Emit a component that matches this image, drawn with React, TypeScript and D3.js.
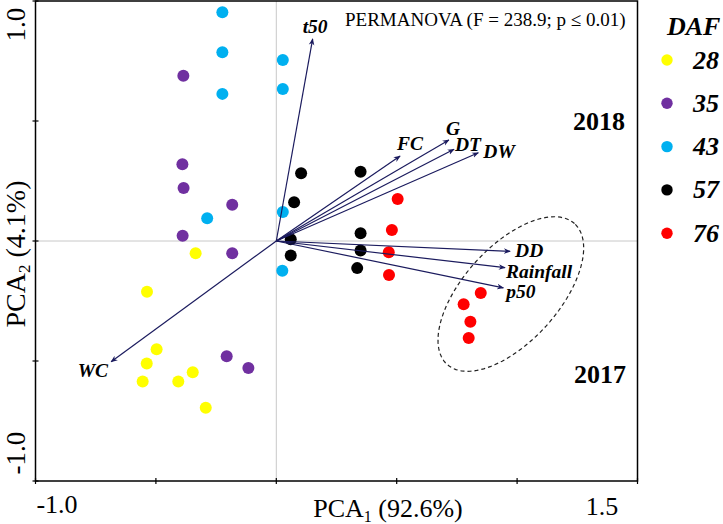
import React from "react";
import * as d3 from "d3";

// ---------- data ----------
const groups = ["28", "35", "43", "57", "76"];
const groupColors = ["#FFFF00", "#7030A0", "#00B0F0", "#000000", "#FF0000"];

const pc1_28 = [-0.335, -0.537, -0.497, -0.538, -0.555, -0.407, -0.347, -0.293];
const pc2_28 = [-0.051, -0.211, -0.451, -0.51, -0.585, -0.585, -0.547, -0.695];
const pc1_35 = [-0.386, -0.39, -0.385, -0.183, -0.389, -0.183, -0.206, -0.116];
const pc2_35 = [0.689, 0.32, 0.221, 0.151, 0.022, -0.051, -0.48, -0.529];
const pc1_43 = [-0.224, -0.224, -0.224, -0.287, 0.027, 0.027, 0.027, 0.025];
const pc2_43 = [0.953, 0.786, 0.613, 0.095, 0.754, 0.633, 0.121, -0.124];
const pc1_57 = [0.103, 0.35, 0.074, 0.06, 0.35, 0.35, 0.06, 0.336];
const pc2_57 = [0.282, 0.289, 0.161, 0.007, 0.032, -0.04, -0.06, -0.113];
const pc1_76 = [0.504, 0.48, 0.467, 0.468, 0.849, 0.778, 0.806, 0.799];
const pc2_76 = [0.175, 0.046, -0.047, -0.142, -0.217, -0.264, -0.336, -0.404];

const pc1Series = [pc1_28, pc1_35, pc1_43, pc1_57, pc1_76];
const pc2Series = [pc2_28, pc2_35, pc2_43, pc2_57, pc2_76];

const loadingNames = ["t50", "FC", "G", "DT", "DW", "DD", "Rainfall", "p50", "WC"];
const loadingPC1 = [0.151, 0.514, 0.717, 0.738, 0.839, 0.971, 0.95, 0.943, -0.686];
const loadingPC2 = [0.842, 0.354, 0.421, 0.382, 0.368, -0.043, -0.111, -0.195, -0.503];

// ellipse (data units): center, semi-axes, angle (deg)
const ellipseCenter = [0.974, -0.221];
const ellipseAxes = [0.395, 0.198];
const ellipseAngle = 48;

const xTicks = [-1, -0.5, 0, 0.5, 1, 1.5];
const yTicks = [-1, -0.5, 0, 0.5, 1];
const xTickLabels = ["-1.0", "1.5"];
const yTickLabels = ["1.0", "-1.0"];

const statText = "PERMANOVA (F = 238.9; p \u2264 0.01)";
const yearLabels = ["2018", "2017"];
const legendTitle = "DAF";

// ---------- layout ----------
const W = 723;
const H = 524;
const plot = { left: 35.5, right: 637.5, top: 1, bottom: 481 };
// label offsets (px) from arrow tips
const labelOffsets: [number, number, string][] = [
  [-10, -6, "start"],
  [-3, -6, "start"],
  [-3, -5, "start"],
  [1, 1.5, "start"],
  [5, 5, "start"],
  [5, 6, "start"],
  [1, 10, "start"],
  [3, 10.5, "start"],
  [-3, 15, "end"],
];

const serif = "'Liberation Serif', 'Times New Roman', Times, serif";
const arrowColor = "#1b1b5e";

export default function App() {
  const x = d3.scaleLinear().domain([-1, 1.5]).range([plot.left, plot.right]);
  const y = d3.scaleLinear().domain([-1, 1]).range([plot.bottom, plot.top]);

  // ellipse path
  const th = (ellipseAngle * Math.PI) / 180;
  const ellPts: [number, number][] = d3.range(0, 361, 3).map((deg) => {
    const t = (deg * Math.PI) / 180;
    const ex = ellipseAxes[0] * Math.cos(t);
    const ey = ellipseAxes[1] * Math.sin(t);
    const dx = ex * Math.cos(th) - ey * Math.sin(th);
    const dy = ex * Math.sin(th) + ey * Math.cos(th);
    return [x(ellipseCenter[0] + dx), y(ellipseCenter[1] + dy)];
  });
  const ellPath = d3.line().curve(d3.curveLinearClosed)(ellPts) || "";

  const legendX = 667;
  const legendY0 = 60;
  const legendStep = 43.3;

  return (
    <svg
      width={W}
      height={H}
      style={{ position: "absolute", left: 0, top: 0, background: "#fff" }}
      fontFamily={serif}
    >
      <defs>
        <marker
          id="ah"
          viewBox="0 0 10 10"
          refX="9"
          refY="5"
          markerWidth="7"
          markerHeight="7"
          markerUnits="userSpaceOnUse"
          orient="auto"
        >
          <path d="M0,1 L10,5 L0,9 L3,5 Z" fill={arrowColor} />
        </marker>
      </defs>
      <rect width={W} height={H} fill="#fff" />

      {/* zero lines */}
      <line x1={x(0)} x2={x(0)} y1={plot.top} y2={plot.bottom} stroke="#c8c8c8" strokeWidth={1} />
      <line x1={plot.left} x2={plot.right} y1={y(0)} y2={y(0)} stroke="#c8c8c8" strokeWidth={1} />

      {/* ellipse */}
      <path d={ellPath} fill="none" stroke="#222" strokeWidth={1.2} strokeDasharray="4,3" />

      {/* points */}
      {groups.map((g, gi) =>
        pc1Series[gi].map((v, i) => (
          <circle key={g + i} cx={x(v)} cy={y(pc2Series[gi][i])} r={6} fill={groupColors[gi]} />
        ))
      )}

      {/* loading arrows */}
      {loadingNames.map((n, i) => (
        <line
          key={n}
          x1={x(0)}
          y1={y(0)}
          x2={x(loadingPC1[i])}
          y2={y(loadingPC2[i])}
          stroke={arrowColor}
          strokeWidth={1.2}
          markerEnd="url(#ah)"
        />
      ))}
      {loadingNames.map((n, i) => (
        <text
          key={"l" + n}
          x={x(loadingPC1[i]) + labelOffsets[i][0]}
          y={y(loadingPC2[i]) + labelOffsets[i][1]}
          textAnchor={labelOffsets[i][2] as any}
          fontSize={19.5}
          fontWeight="bold"
          fontStyle="italic"
          fill="#000"
        >
          {n}
        </text>
      ))}

      {/* frame */}
      <rect
        x={plot.left}
        y={plot.top}
        width={plot.right - plot.left}
        height={plot.bottom - plot.top}
        fill="none"
        stroke="#000"
        strokeWidth={1.5}
      />
      {xTicks.map((t) => (
        <line key={"xt" + t} x1={x(t)} x2={x(t)} y1={plot.bottom - 3} y2={plot.bottom + 3} stroke="#000" strokeWidth={1.2} />
      ))}
      {yTicks.map((t) => (
        <line key={"yt" + t} x1={plot.left - 3} x2={plot.left + 3} y1={y(t)} y2={y(t)} stroke="#000" strokeWidth={1.2} />
      ))}

      {/* tick labels */}
      <text x={57} y={513} textAnchor="middle" fontSize={26}>{xTickLabels[0]}</text>
      <text x={602} y={515} textAnchor="middle" fontSize={26}>{xTickLabels[1]}</text>
      <text transform={`translate(25,24.5) rotate(-90)`} textAnchor="middle" fontSize={27}>{yTickLabels[0]}</text>
      <text transform={`translate(25,453) rotate(-90)`} textAnchor="middle" fontSize={27}>{yTickLabels[1]}</text>

      {/* axis titles */}
      <text x={388} y={517} textAnchor="middle" fontSize={26}>
        PCA<tspan fontSize={16} dy={5}>1</tspan>
        <tspan dy={-5}> (92.6%)</tspan>
      </text>
      <text transform={`translate(25,254) rotate(-90)`} textAnchor="middle" fontSize={28}>
        PCA<tspan fontSize={17} dy={5}>2</tspan>
        <tspan dy={-5}> (4.1%)</tspan>
      </text>

      {/* annotations */}
      <text x={345} y={26} fontSize={19}>{statText}</text>
      <text x={573} y={130} fontSize={26} fontWeight="bold">{yearLabels[0]}</text>
      <text x={574} y={383} fontSize={26} fontWeight="bold">{yearLabels[1]}</text>

      {/* legend */}
      <text x={667} y={35} fontSize={26} fontWeight="bold" fontStyle="italic">{legendTitle}</text>
      {groups.map((g, i) => (
        <g key={"lg" + g}>
          <circle cx={legendX} cy={legendY0 + i * legendStep} r={5.7} fill={groupColors[i]} />
          <text x={693} y={legendY0 + i * legendStep + 8.5} fontSize={26} fontWeight="bold" fontStyle="italic">
            {g}
          </text>
        </g>
      ))}
    </svg>
  );
}
